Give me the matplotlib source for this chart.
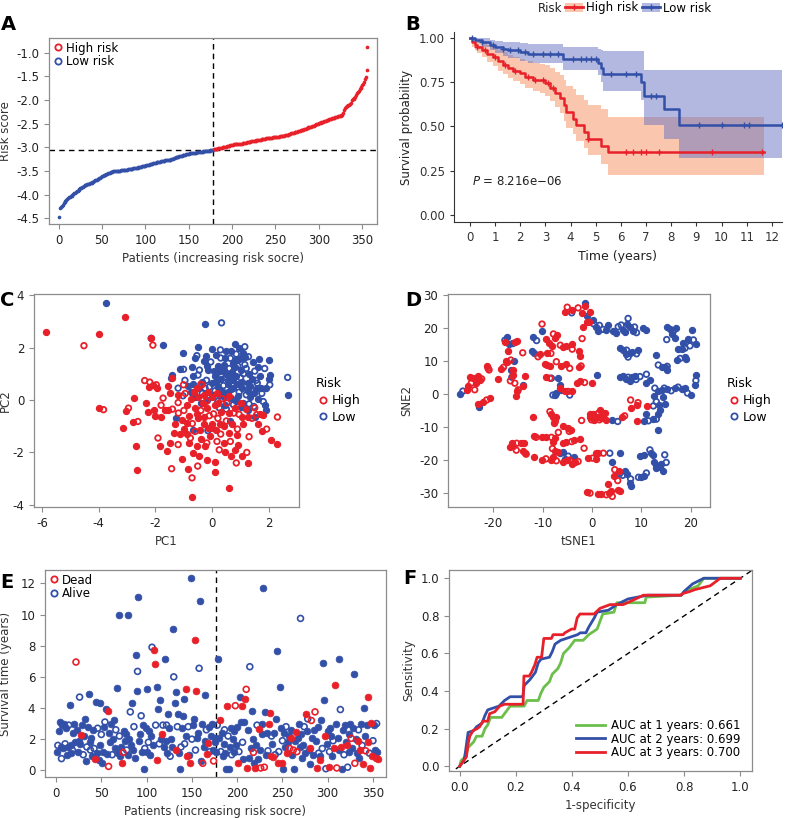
import numpy as np
import matplotlib
matplotlib.use("Agg")
import matplotlib.pyplot as plt
from matplotlib.lines import Line2D
from matplotlib.patches import Patch

plt.rcParams["font.family"] = ["DejaVu Sans"]
plt.rcParams["axes.unicode_minus"] = False

RED = "#e8202a"
BLUE = "#3350a8"
GREEN = "#6cbf4a"
GRAY = "#8c8c8c"

# ---------------- data ----------------
# A: risk score of each patient, sorted (low risk group first)
risk_low = [
    -4.47, -4.29, -4.27, -4.24, -4.21, -4.18, -4.16, -4.14, -4.12, -4.09,
    -4.07, -4.06, -4.04, -4.03, -4.02, -4.00, -3.99, -3.97, -3.96, -3.94,
    -3.93, -3.92, -3.90, -3.88, -3.86, -3.85, -3.84, -3.83, -3.82, -3.80,
    -3.80, -3.79, -3.78, -3.78, -3.77, -3.76, -3.76, -3.75, -3.74, -3.73,
    -3.72, -3.70, -3.69, -3.68, -3.67, -3.66, -3.65, -3.64, -3.63, -3.61,
    -3.60, -3.59, -3.59, -3.58, -3.57, -3.56, -3.55, -3.54, -3.54, -3.53,
    -3.52, -3.52, -3.51, -3.51, -3.50, -3.50, -3.50, -3.49, -3.49, -3.49,
    -3.49, -3.48, -3.48, -3.48, -3.48, -3.47, -3.47, -3.47, -3.47, -3.46,
    -3.46, -3.46, -3.45, -3.45, -3.45, -3.44, -3.44, -3.44, -3.43, -3.43,
    -3.43, -3.42, -3.42, -3.41, -3.41, -3.40, -3.40, -3.40, -3.39, -3.39,
    -3.38, -3.38, -3.37, -3.37, -3.36, -3.36, -3.35, -3.35, -3.34, -3.34,
    -3.33, -3.33, -3.32, -3.31, -3.31, -3.30, -3.30, -3.29, -3.29, -3.28,
    -3.28, -3.28, -3.27, -3.27, -3.27, -3.27, -3.26, -3.26, -3.26, -3.25,
    -3.24, -3.24, -3.23, -3.22, -3.21, -3.21, -3.20, -3.20, -3.19, -3.19,
    -3.18, -3.18, -3.17, -3.17, -3.16, -3.16, -3.15, -3.15, -3.14, -3.14,
    -3.13, -3.13, -3.13, -3.12, -3.12, -3.11, -3.11, -3.11, -3.10, -3.10,
    -3.10, -3.10, -3.09, -3.09, -3.09, -3.09, -3.08, -3.08, -3.08, -3.08,
    -3.07, -3.07, -3.07, -3.07, -3.06, -3.06, -3.06, -3.05,
]
risk_high = [
    -3.04, -3.04, -3.03, -3.03, -3.03, -3.02, -3.02, -3.02, -3.01, -3.01,
    -3.00, -3.00, -2.99, -2.99, -2.99, -2.98, -2.98, -2.97, -2.97, -2.96,
    -2.96, -2.95, -2.95, -2.94, -2.94, -2.94, -2.93, -2.93, -2.93, -2.93,
    -2.92, -2.92, -2.92, -2.91, -2.91, -2.91, -2.90, -2.90, -2.89, -2.89,
    -2.88, -2.88, -2.88, -2.87, -2.87, -2.87, -2.86, -2.86, -2.86, -2.85,
    -2.85, -2.85, -2.84, -2.84, -2.84, -2.83, -2.83, -2.82, -2.82, -2.82,
    -2.81, -2.81, -2.81, -2.81, -2.80, -2.80, -2.80, -2.80, -2.79, -2.79,
    -2.79, -2.79, -2.78, -2.78, -2.78, -2.78, -2.77, -2.77, -2.77, -2.76,
    -2.76, -2.76, -2.75, -2.75, -2.74, -2.73, -2.73, -2.72, -2.71, -2.70,
    -2.70, -2.69, -2.69, -2.68, -2.68, -2.67, -2.67, -2.66, -2.66, -2.65,
    -2.64, -2.64, -2.63, -2.63, -2.62, -2.61, -2.61, -2.60, -2.59, -2.58,
    -2.57, -2.57, -2.56, -2.55, -2.54, -2.54, -2.53, -2.52, -2.51, -2.51,
    -2.50, -2.49, -2.48, -2.48, -2.47, -2.46, -2.46, -2.45, -2.44, -2.44,
    -2.43, -2.42, -2.42, -2.41, -2.40, -2.40, -2.39, -2.38, -2.37, -2.37,
    -2.36, -2.35, -2.35, -2.34, -2.34, -2.33, -2.33, -2.32, -2.31, -2.27,
    -2.21, -2.17, -2.15, -2.13, -2.12, -2.11, -2.10, -2.08, -2.06, -1.99,
    -1.98, -1.97, -1.95, -1.93, -1.90, -1.86, -1.83, -1.80, -1.77, -1.74,
    -1.72, -1.69, -1.66, -1.62, -1.55, -1.52, -1.37, -0.88,
]
risk_cut = -3.05

# B: Kaplan-Meier steps, confidence bands and censor times
km_high_t = [0, 0.1, 0.2, 0.3, 0.5, 0.7, 0.9, 1.1, 1.3, 1.5, 1.7, 2.0, 2.2, 2.5,
             2.8, 3.0, 3.2, 3.4, 3.6, 3.75, 3.8, 4.1, 4.2, 4.55, 4.7, 5.2, 5.5, 11.7]
km_high_s = [1.0, 0.98, 0.96, 0.95, 0.93, 0.91, 0.89, 0.87, 0.85, 0.83, 0.815, 0.80,
             0.78, 0.765, 0.76, 0.745, 0.72, 0.69, 0.66, 0.62, 0.58, 0.545, 0.51,
             0.47, 0.43, 0.39, 0.355, 0.355]
km_high_hi = [1.0, 1.0, 0.99, 0.985, 0.975, 0.96, 0.95, 0.935, 0.92, 0.905, 0.89, 0.88,
              0.87, 0.86, 0.855, 0.845, 0.83, 0.81, 0.79, 0.76, 0.73, 0.71, 0.68,
              0.65, 0.62, 0.60, 0.555, 0.555]
km_high_lo = [1.0, 0.95, 0.93, 0.915, 0.89, 0.865, 0.84, 0.815, 0.795, 0.775, 0.755,
              0.74, 0.715, 0.70, 0.69, 0.675, 0.645, 0.61, 0.575, 0.53, 0.49, 0.455,
              0.42, 0.38, 0.34, 0.29, 0.225, 0.225]
km_high_cens = [0.3, 0.6, 1.0, 1.4, 1.8, 2.3, 2.6, 2.9, 3.1, 3.3, 4.7, 6.2, 6.5, 6.8,
                7.0, 7.5, 9.6, 11.6]

km_low_t = [0, 0.2, 0.5, 0.8, 1.0, 1.3, 1.5, 2.0, 2.3, 3.7, 5.1, 5.2, 5.3, 6.8, 6.9,
            7.7, 8.3, 12.4]
km_low_s = [1.0, 0.99, 0.975, 0.96, 0.95, 0.94, 0.93, 0.92, 0.91, 0.88, 0.86, 0.83,
            0.795, 0.75, 0.67, 0.60, 0.51, 0.51]
km_low_hi = [1.0, 1.0, 1.0, 0.99, 0.985, 0.98, 0.975, 0.97, 0.965, 0.95, 0.94, 0.93,
             0.925, 0.925, 0.82, 0.82, 0.82, 0.82]
km_low_lo = [1.0, 0.97, 0.95, 0.93, 0.915, 0.90, 0.885, 0.87, 0.86, 0.82, 0.79, 0.75,
             0.70, 0.65, 0.51, 0.43, 0.32, 0.32]
km_low_cens = [0.1, 0.5, 0.9, 1.3, 1.6, 1.9, 2.2, 2.5, 2.9, 3.2, 3.5, 4.1, 4.4, 4.6,
               4.8, 5.0, 5.6, 6.2, 6.6, 7.2, 7.4, 9.1, 10.0, 10.9, 11.1, 12.4]

# C: PCA coordinates (PC1, PC2)
pca_high = [
    (-5.85, 2.6), (-4.52, 2.07), (-3.99, 2.52), (-3.09, 3.17), (-2.09, 2.09), (-2.15, 2.35),
    (-4.0, -0.29), (-3.83, -0.37), (-3.15, -1.05), (-3.03, -0.41), (-2.95, -0.31),
    (-2.77, 0.08), (-2.79, -0.84), (-2.62, -0.82), (-2.7, -1.75), (-2.64, -2.67),
    (-2.38, 0.74), (-2.32, -0.12), (-2.27, -0.44), (-2.2, 0.68), (-2.22, 0.51),
    (-2.09, 0.58), (-1.97, 0.58), (-1.93, 0.45), (-2.06, -0.37), (-1.91, -1.45),
    (-1.85, -1.77), (-1.79, -0.63), (-1.73, 0.07), (-1.6, -1.96), (-1.49, -1.64),
    (-1.43, -2.62), (-1.49, 0.28), (-1.43, 0.83), (-1.4, -0.35), (-1.55, -0.37),
    (-1.21, 0.2), (-1.19, -0.5), (-1.13, -1.29), (-1.07, -0.75), (-1.01, 0.58),
    (-0.89, -0.88), (-0.85, -2.62), (-0.71, -2.97), (-0.71, -3.71), (-0.83, -1.64),
    (-0.77, -1.45), (-0.66, -2.02), (-0.54, -1.77), (-0.51, -2.52), (-0.45, -2.12),
    (-0.42, -1.14), (-0.36, 0.58), (-0.31, -0.12), (-0.28, -0.63), (-0.19, -1.64),
    (-0.13, -1.07), (-0.09, -1.39), (0.05, -0.53), (0.11, -2.38), (0.11, -2.75),
    (0.17, -1.58), (0.29, -0.92), (0.43, -1.64), (0.52, -0.12), (0.58, -0.5),
    (0.61, -1.24), (0.64, -1.58), (0.66, -2.12), (0.6, -3.36), (0.76, -0.5),
    (0.79, -1.89), (0.87, -1.33), (0.89, -1.11), (1.05, -2.15), (1.05, -0.63),
    (1.22, -2.0), (1.28, -2.41), (1.28, -0.63), (1.57, -0.56), (1.74, -1.2),
    (1.8, -0.56), (1.92, -1.11), (2.09, -1.51), (2.29, -1.67), (2.3, -0.65),
    (-0.13, 0.32), (0.17, 0.26), (-1.0, -0.4), (-0.9, -0.2), (-0.8, -0.6), (-0.7, -0.9),
    (-0.6, -0.3), (-0.5, -0.7), (-0.4, -0.4), (-0.3, -0.9), (-0.2, -0.3), (-0.1, -0.6),
    (0.0, -0.9), (0.1, -0.2), (0.2, -0.7), (0.3, -0.45), (0.4, -1.0), (0.5, -0.8),
    (0.7, -0.9), (0.8, -0.3), (0.95, -0.55), (1.1, -0.9), (1.2, -0.35), (1.4, -0.7),
    (1.6, -0.9), (-1.3, -0.9), (-1.2, -0.1), (-1.0, -1.1), (-0.9, -1.3), (-0.6, -1.2),
    (-0.5, 0.1), (-0.3, 0.2), (-0.2, -0.05), (0.0, 0.1), (0.2, -0.1), (0.35, 0.05),
    (-0.75, 0.05), (-0.55, 0.45), (-0.4, 0.6), (-0.25, -1.75), (-0.4, -1.5), (0.3, -1.3),
    (0.0, -1.05), (-1.65, -0.4), (-1.8, -0.2), (-2.0, -0.6), (-1.35, -1.25), (-1.2, -1.7),
    (0.45, -2.0), (0.9, -1.7), (1.3, -1.4), (1.0, -0.1), (0.6, 0.15), (-0.95, 0.25),
    (-1.55, 0.55), (-0.65, 0.3), (0.85, -2.4), (-0.2, -2.3), (-1.05, -2.25), (0.25, -1.9),
    (-0.55, -0.55), (0.15, -1.15), (1.5, -0.3), (1.7, -0.55),
]
pca_low = [
    (-3.73, 3.68), (-2.15, 2.35), (-1.73, 2.11), (-0.26, 2.89), (0.33, 2.94), (-1.03, 1.78),
    (-0.51, 2.03), (-0.54, 1.69), (-0.21, 1.68), (-0.02, 1.93), (0.29, 1.91), (0.5, 1.88),
    (0.82, 2.15), (1.15, 2.03), (1.17, 1.65), (2.02, 1.52), (2.66, 0.86), (2.67, 0.19),
    (-1.13, 1.17), (-1.01, 1.17), (-1.42, 0.96), (-1.45, 0.85), (-0.96, 0.75), (-0.66, 0.91),
    (-0.66, 0.6), (-0.45, 1.14), (-0.19, 1.3), (-0.15, 1.15), (0.17, 1.02), (0.29, 1.09),
    (0.43, 1.34), (0.64, 1.59), (0.82, 1.52), (1.0, 1.15), (1.28, 1.65), (1.63, 1.24),
    (1.99, 0.8), (2.03, 0.58), (1.91, 0.45), (1.71, 0.45), (1.59, 0.64), (1.47, 0.26),
    (1.25, 0.65), (1.1, 1.0), (0.75, 0.75), (0.55, 0.6), (0.4, 0.55), (0.2, 0.5),
    (0.0, 0.65), (-0.2, 0.75), (-0.35, 0.7), (0.75, 0.45), (0.95, 0.3), (1.25, 0.35),
    (1.35, 0.1), (1.8, -0.06), (1.87, -0.18), (1.91, -0.37), (1.47, -0.25), (1.25, -0.37),
    (1.0, -0.25), (0.75, -0.18), (0.65, 0.07), (0.4, 0.13), (0.2, -0.05), (0.0, 0.2),
    (-0.2, 0.0), (-0.35, 0.25), (-0.5, 0.45), (-0.75, 0.3), (-1.03, 0.16), (-0.69, -1.14),
    (-1.26, -0.69), (-0.15, -1.17), (0.64, -0.82), (1.5, -0.63), (0.5, -0.35),
    (0.3, 0.8), (0.5, 1.0), (0.6, 1.2), (0.7, 1.05), (0.85, 0.9), (0.9, 1.3), (1.0, 1.6),
    (1.05, 0.7), (1.15, 1.35), (1.3, 1.0), (1.4, 0.8), (1.5, 1.1), (1.55, 0.4), (1.7, 0.9),
    (1.85, 1.2), (0.1, 0.9), (0.2, 1.3), (-0.05, 1.45), (0.45, 1.6), (0.65, 1.85),
    (0.85, 1.75), (0.95, 2.0), (1.1, 1.8), (0.3, 1.6), (0.15, 1.7), (-0.3, 1.5),
    (-0.5, 0.95), (-0.7, 1.25), (-0.85, 0.55), (-1.2, 0.45), (-0.6, 0.1), (-0.4, -0.1),
    (0.1, 0.35), (0.25, 0.2), (0.55, 0.3), (0.7, 0.55), (0.9, 0.6), (1.05, 0.45),
    (1.2, 0.2), (1.35, 0.55), (1.6, 0.05), (1.75, 0.25), (0.85, -0.05), (0.45, -0.2),
    (0.3, 0.95), (0.6, 0.9), (0.8, 1.25), (1.2, 1.2), (1.45, 1.45), (0.4, 1.15),
    (-0.1, 0.5), (0.9, 0.15), (1.1, -0.1), (1.3, -0.15), (0.55, 0.75), (0.75, 1.4),
    (1.0, 0.85), (0.35, 0.35), (0.15, 0.7), (-0.25, 0.45), (0.95, 1.55), (0.65, 0.4),
    (1.15, 0.55), (0.05, 1.1), (-0.6, 1.6), (1.55, 0.75), (2.05, 0.95), (1.65, 1.55),
    (0.25, -0.3),
]

# D: t-SNE coordinates (tSNE1, tSNE2)
tsne_high = [
    (-24.7, 5.1), (-24.4, 3.3), (-25.0, 2.3), (-25.3, 1.3), (-23.7, 1.3), (-23.0, 5.5),
    (-22.7, 4.3), (-22.3, 4.6), (-23.5, 3.5), (-21.3, 8.5), (-20.8, 7.3), (-23.0, -3.0),
    (-22.0, -2.5), (-21.3, -1.8), (-20.7, -1.2), (-24.0, 4.8), (-21.0, 7.8),
    (-19.0, 4.5), (-18.4, 7.5), (-17.9, 8.1), (-17.4, 10.1), (-16.9, 12.9), (-16.4, 10.3),
    (-16.0, 7.3), (-15.9, 5.8), (-15.6, 3.3), (-15.2, 1.0), (-15.4, -0.6), (-14.9, 1.3),
    (-14.0, 2.5), (-13.5, 5.5), (-14.0, 12.5), (-15.2, 16.1), (-17.5, 15.8), (-16.5, 4.0),
    (-17.2, 9.8), (-15.5, 15.9),
    (-10.1, 21.2), (-9.3, 16.7), (-8.6, 15.4), (-7.8, 18.2), (-7.5, 16.9), (-8.0, 14.6),
    (-8.3, 12.3), (-9.0, 12.3), (-10.6, 12.1), (-10.9, 11.3), (-9.1, 8.8), (-8.4, 8.5),
    (-7.2, 9.8), (-6.2, 8.5), (-5.2, 9.1), (-4.5, 7.8), (-4.1, 15.1), (-5.2, 14.5),
    (-4.0, 13.6), (-2.7, 13.0), (-2.5, 11.5), (-2.0, 16.8), (-1.9, 20.2), (-2.7, 8.1),
    (-2.2, 8.5), (-3.1, 3.3), (-2.5, 3.9), (-1.5, 3.5), (0.1, 3.5), (-9.2, 5.3),
    (-8.5, 4.8), (-6.5, 1.8), (-5.5, 0.8), (-4.8, 0.8), (-4.0, 0.8), (-7.0, 18.0),
    (-6.4, 14.8), (-5.8, 14.2), (-9.5, 9.0),
    (-5.0, 26.3), (-4.1, 25.5), (-2.0, 24.6), (-2.8, 26.1), (-0.4, 25.0), (-1.1, 21.8),
    (-0.5, 21.7), (-1.5, 26.6), (-5.5, 24.8),
    (7.8, -1.8), (7.9, -4.3), (9.1, -3.3), (9.3, -2.6), (9.0, -8.1), (11.2, -3.6),
    (-0.1, -7.8), (0.3, -6.0), (1.0, -6.8), (1.3, -5.8), (1.6, -4.8), (2.0, -6.3),
    (2.3, -6.8), (2.6, -5.8), (-0.4, -6.8), (1.5, -7.8), (0.4, -7.8), (2.8, -7.8),
    (-2.1, -8.0), (-0.4, -6.0), (6.0, -6.8), (6.6, -6.6), (1.8, -7.3),
    (-12.0, -6.8), (-8.5, -5.3), (-8.2, -6.0), (-7.9, -6.8), (-7.5, -7.3), (-7.2, -6.8),
    (-7.7, -8.8), (-7.4, -8.3), (-5.8, -9.8), (-4.9, -10.3), (-4.6, -11.3), (-4.3, -10.8),
    (-11.8, -12.8), (-11.3, -13.1), (-10.2, -13.1), (-9.2, -12.9), (-8.2, -13.1),
    (-7.9, -14.4), (-7.4, -13.4), (-6.8, -11.6), (-5.8, -14.8), (-5.2, -14.4),
    (-4.1, -14.4), (-3.7, -13.9), (-2.5, -13.7), (-1.6, -16.4), (-16.2, -14.7),
    (-15.9, -15.6), (-15.2, -14.9), (-14.4, -14.9), (-13.7, -14.7), (-15.3, -17.0),
    (-14.0, -17.3), (-13.6, -17.8), (-13.3, -18.2), (-11.8, -19.0), (-10.2, -20.0),
    (-9.3, -19.6), (-8.2, -20.0), (-7.9, -19.2), (-7.2, -20.2), (-5.9, -20.5),
    (-5.1, -20.0), (-4.5, -20.0), (-4.1, -21.2), (-3.5, -20.7), (-2.8, -20.4),
    (-7.5, -17.2), (-6.8, -17.4), (-8.0, -16.5), (-16.5, -16.0),
    (-0.8, -19.4), (0.1, -19.4), (0.9, -19.7), (1.3, -17.7), (2.3, -17.9), (0.8, -17.9),
    (-1.0, -29.8), (-0.4, -30.0), (1.2, -30.2), (1.9, -30.2), (2.9, -30.5), (3.4, -30.0),
    (3.8, -29.5), (4.1, -31.0), (5.2, -29.0), (5.6, -29.5), (4.6, -22.9), (5.4, -23.4),
    (4.5, -24.9), (5.2, -26.2), (3.3, -27.2),
]
tsne_low = [
    (-26.6, 0.0), (-26.1, 0.9), (-22.8, -4.0), (-17.1, 17.4), (-17.6, 16.3), (-16.7, 15.2),
    (-16.4, 7.3), (-16.2, 5.1), (-15.7, 10.1), (-14.0, 2.8), (-16.0, 15.3),
    (-10.2, 19.2), (-11.9, 17.4), (-11.2, 16.2), (-12.2, 12.9), (-11.7, 12.4), (-4.1, 24.6),
    (-1.5, 27.5), (-1.0, 23.6), (-8.2, 4.8), (-6.9, 4.8), (-6.5, 2.8), (-7.9, -0.3),
    (-7.2, 0.2), (-6.2, 1.3), (-4.5, -0.3), (1.0, 5.8), (-7.5, -0.2),
    (0.4, 21.2), (0.9, 20.4), (1.2, 19.0), (2.2, 19.6), (3.3, 20.9), (4.3, 19.1),
    (5.3, 20.4), (6.3, 19.4), (7.0, 21.2), (7.3, 22.9), (7.6, 20.4), (8.3, 19.2),
    (9.0, 18.6), (10.3, 19.9), (11.0, 19.4), (5.9, 20.9), (2.9, 19.4), (4.9, 18.6),
    (1.5, 20.8), (0.2, 22.5), (6.6, 18.7), (8.6, 20.3),
    (5.6, 13.9), (6.3, 13.2), (7.3, 11.2), (7.6, 12.4), (9.3, 13.4), (9.0, 12.2),
    (8.0, 12.6), (6.9, 12.0), (7.0, 13.3),
    (5.6, 5.3), (6.3, 5.5), (7.3, 5.1), (8.0, 5.3), (8.6, 5.5), (9.7, 5.3), (7.7, 3.9),
    (10.9, 3.3), (11.0, 6.0), (11.8, 4.3), (6.8, 4.6), (8.9, 4.4),
    (15.1, 20.2), (15.8, 19.6), (16.4, 18.9), (16.9, 19.9), (16.8, 16.9), (15.1, 16.5),
    (17.4, 13.7), (18.1, 13.7), (18.8, 13.9), (19.5, 16.7), (20.2, 19.4), (20.5, 16.4),
    (21.0, 15.2), (17.2, 10.3), (17.8, 10.8), (18.8, 11.1), (13.0, 11.8), (13.4, 8.8),
    (14.1, 8.1), (14.7, 8.1), (15.2, 8.4), (15.2, 7.3), (18.3, 15.5), (19.8, 14.6),
    (16.2, 18.1), (19.0, 10.5),
    (12.7, 1.8), (13.4, 0.8), (14.1, 1.3), (14.6, 1.8), (15.2, 1.6), (16.8, 1.8),
    (17.4, 2.1), (18.1, 1.5), (18.8, 1.8), (19.3, 0.3), (20.0, -0.2), (21.0, 5.8),
    (21.0, 4.1), (20.9, 2.8), (14.4, -0.8), (13.0, -2.3), (13.6, -3.3), (14.8, -3.0),
    (12.4, -3.6), (13.8, -4.8), (13.4, -6.0), (13.0, -7.6), (10.9, -6.0), (10.5, -8.1),
    (11.4, -8.1), (12.4, -7.6), (13.4, -10.9), (16.0, 1.0), (12.5, -0.5),
    (4.0, -7.8), (5.2, -8.3),
    (-6.5, -17.7), (-5.8, -17.4), (-4.8, -18.8), (-3.6, -19.1), (-5.4, -19.6),
    (3.6, -17.9), (5.6, -17.7), (4.1, -20.7), (5.6, -24.1), (6.6, -23.4), (7.0, -24.1),
    (7.8, -25.7), (7.8, -27.9), (7.7, -26.9), (6.2, -24.6),
    (9.7, -18.9), (10.5, -18.4), (11.7, -16.9), (12.0, -17.7), (12.4, -18.4),
    (14.7, -18.4), (13.0, -21.4), (14.0, -21.2), (15.0, -20.7), (14.3, -23.4),
    (13.8, -22.0), (11.0, -23.9), (10.5, -24.9), (10.0, -25.2), (9.4, -25.2),
    (13.0, -22.5), (12.5, -20.5),
]

# E: survival time (years) per patient in risk order, and which patients died
surv_time = [
    1.2, 1.6, 2.5, 3.1, 1.5, 0.75, 2.9, 1.4, 3.0, 1.7,
    2.7, 1.0, 1.5, 2.9, 4.2, 1.1, 1.6, 1.3, 2.4, 3.0,
    1.8, 6.95, 2.6, 1.2, 1.9, 4.7, 1.7, 2.25, 2.9, 1.0,
    2.2, 3.3, 0.6, 1.5, 2.8, 4.9, 1.8, 1.3, 2.1, 0.9,
    2.6, 1.4, 0.7, 4.4, 1.1, 2.7, 0.65, 1.6, 4.35, 2.3,
    0.5, 1.2, 2.8, 3.1, 3.95, 1.05, 3.8, 0.25, 2.4, 1.8,
    3.0, 1.0, 2.0, 3.2, 1.4, 2.6, 5.3, 1.1, 10.0, 2.2,
    0.95, 1.5, 0.45, 1.15, 2.5, 1.9, 2.3, 1.3, 1.0, 10.0,
    2.0, 3.75, 1.6, 4.3, 1.3, 2.8, 0.8, 7.4, 5.1, 6.35,
    11.1, 1.9, 2.3, 3.5, 1.2, 2.9, 0.1, 1.4, 2.7, 1.2,
    5.2, 1.8, 2.5, 1.0, 2.2, 7.9, 1.6, 7.75, 6.8, 2.9,
    0.65, 5.35, 3.95, 1.7, 4.5, 2.0, 2.35, 2.9, 1.5, 7.15,
    1.9, 2.9, 1.1, 3.6, 2.7, 0.9, 2.0, 1.5, 9.1, 6.0,
    4.3, 5.0, 1.3, 2.8, 3.6, 1.1, 0.1, 1.5, 2.7, 3.5,
    4.6, 1.7, 5.25, 2.2, 0.95, 2.8, 1.0, 0.45, 12.35, 2.0,
    2.9, 3.3, 8.35, 1.3, 5.1, 2.1, 2.4, 6.55, 10.9, 0.6,
    3.0, 0.45, 1.5, 4.85, 1.9, 2.6, 1.05, 1.75, 2.8, 1.2,
    2.2, 3.0, 1.3, 0.6, 2.1, 1.8, 1.2, 2.9,
    7.15, 2.1, 3.2, 1.2, 2.4, 0.9, 1.7, 2.6, 1.1, 0.1,
    4.1, 2.2, 0.1, 1.5, 2.7, 1.0, 2.0, 1.2, 2.5, 4.15,
    1.6, 2.8, 0.5, 1.2, 4.7, 3.1, 4.15, 1.8, 0.7, 3.1,
    4.55, 5.2, 0.15, 2.6, 0.8, 6.65, 1.4, 3.8, 2.0, 1.15,
    0.5, 0.15, 1.6, 2.9, 0.7, 2.65, 1.3, 0.15, 2.3, 3.0,
    11.7, 0.2, 3.75, 1.0, 2.4, 1.25, 3.0, 3.65, 0.95, 2.2,
    1.7, 0.85, 2.4, 1.0, 3.3, 7.65, 0.45, 1.2, 5.35, 2.7,
    0.5, 1.9, 0.1, 2.4, 1.5, 2.8, 1.1, 1.8, 2.2, 1.4,
    2.6, 2.05, 1.0, 1.3, 0.1, 1.9, 2.45, 1.2, 2.1, 3.0,
    1.5, 9.75, 2.3, 0.8, 1.6, 2.8, 1.1, 3.6, 2.5, 3.3,
    1.3, 0.4, 1.4, 3.2, 2.1, 1.0, 2.6, 3.75, 1.9, 0.15,
    2.8, 1.1, 0.9, 0.65, 3.2, 1.4, 6.9, 4.5, 2.2, 0.1,
    1.7, 2.5, 0.2, 1.2, 2.7, 2.2, 0.9, 1.9, 1.4, 5.5,
    3.0, 0.15, 2.1, 7.15, 1.3, 3.9, 1.5, 0.1, 2.6, 1.0,
    2.9, 1.8, 1.65, 0.2, 2.3, 1.2, 3.0, 2.05, 1.4, 2.7,
    6.2, 0.45, 2.0, 1.1, 1.9, 2.6, 0.8, 1.3, 3.0, 1.6,
    0.4, 4.0, 2.2, 1.25, 2.9, 1.8, 4.7, 1.1, 0.15, 3.05,
    0.95, 1.9, 2.9, 1.3, 0.8, 3.0, 1.2, 0.75,
]
dead_patients = [
    22, 28, 43, 57, 58, 73, 74, 108, 109, 111, 117, 133, 143, 145, 148, 153, 155, 162,
    167, 168, 174,
    181, 189, 198, 201, 205, 209, 210, 211, 218, 220, 224, 226, 230, 235, 236, 237, 240,
    245, 249, 255, 258, 260, 262, 265, 266, 276, 281, 282, 286, 288, 292, 297, 301, 307,
    308, 310, 315, 321, 326, 330, 333, 336, 339, 342, 344, 345, 347, 348, 349, 353, 356,
]

# F: time-dependent ROC curves (1-specificity, sensitivity)
roc1_fpr = [0, 0.005, 0.02, 0.03, 0.05, 0.06, 0.08, 0.09, 0.1, 0.11, 0.15, 0.17, 0.18,
            0.23, 0.24, 0.28, 0.29, 0.3, 0.32, 0.33, 0.35, 0.36, 0.37, 0.39, 0.41, 0.44,
            0.46, 0.47, 0.49, 0.5, 0.51, 0.55, 0.56, 0.66, 0.665, 0.79, 0.8, 0.85, 0.87, 1.0]
roc1_tpr = [0, 0.03, 0.05, 0.1, 0.13, 0.16, 0.16, 0.2, 0.22, 0.26, 0.26, 0.3, 0.32,
            0.32, 0.35, 0.35, 0.39, 0.42, 0.45, 0.49, 0.52, 0.55, 0.6, 0.63, 0.67, 0.67,
            0.7, 0.71, 0.73, 0.77, 0.81, 0.82, 0.87, 0.87, 0.9, 0.91, 0.93, 0.96, 1.0, 1.0]
roc2_fpr = [0, 0.015, 0.02, 0.03, 0.05, 0.06, 0.08, 0.09, 0.1, 0.14, 0.16, 0.18, 0.225,
            0.23, 0.25, 0.27, 0.28, 0.29, 0.32, 0.33, 0.34, 0.36, 0.38, 0.4, 0.42, 0.43,
            0.45, 0.46, 0.48, 0.49, 0.53, 0.56, 0.6, 0.67, 0.79, 0.8, 0.83, 0.87, 1.0]
roc2_tpr = [0, 0.03, 0.07, 0.18, 0.19, 0.21, 0.23, 0.27, 0.3, 0.32, 0.35, 0.37, 0.37,
            0.43, 0.46, 0.5, 0.55, 0.57, 0.58, 0.61, 0.65, 0.67, 0.68, 0.69, 0.7, 0.71,
            0.71, 0.74, 0.79, 0.82, 0.83, 0.86, 0.89, 0.91, 0.91, 0.93, 0.97, 1.0, 1.0]
roc3_fpr = [0, 0.024, 0.03, 0.036, 0.048, 0.062, 0.071, 0.083, 0.1, 0.107, 0.125, 0.143,
            0.16, 0.226, 0.229, 0.248, 0.256, 0.268, 0.276, 0.292, 0.3, 0.327, 0.333,
            0.369, 0.375, 0.399, 0.41, 0.419, 0.429, 0.479, 0.5, 0.536, 0.583, 0.613,
            0.655, 0.786, 0.798, 0.821, 0.839, 0.893, 0.929, 1.0]
roc3_tpr = [0, 0.05, 0.12, 0.16, 0.19, 0.2, 0.21, 0.24, 0.24, 0.28, 0.29, 0.32, 0.33,
            0.33, 0.48, 0.48, 0.5, 0.54, 0.58, 0.58, 0.68, 0.68, 0.7, 0.7, 0.71, 0.73,
            0.73, 0.79, 0.81, 0.81, 0.84, 0.86, 0.86, 0.88, 0.91, 0.91, 0.92, 0.93, 0.94,
            0.96, 1.0, 1.0]
roc_labels = ["AUC at 1 years: 0.661", "AUC at 2 years: 0.699", "AUC at 3 years: 0.700"]

# ---------------- figure ----------------
W, H = 785, 818
fig = plt.figure(figsize=(W / 100, H / 100), dpi=100)


def place(l, t, r, b):
    return fig.add_axes([l / W, 1 - b / H, (r - l) / W, (b - t) / H])


def frame(ax):
    for s in ax.spines.values():
        s.set_color(GRAY)
        s.set_linewidth(0.9)
    ax.tick_params(colors=GRAY, labelcolor="#222222", labelsize=8.5, length=3.5, width=0.8)


def letter(x, y, s):
    fig.text(x / W, 1 - y / H, s, fontsize=14, fontweight="bold", va="center", ha="left")


def open_mask(n, k=3):
    return np.arange(n) % k == 1


def dots(ax, xy, color, s=20, k=3):
    xy = np.asarray(xy)
    hol = open_mask(len(xy), k)
    ax.scatter(xy[~hol, 0], xy[~hol, 1], s=s, color=color, lw=0.8, zorder=3)
    ax.scatter(xy[hol, 0], xy[hol, 1], s=s * 0.8, facecolors="none", edgecolors=color,
               lw=1.3, zorder=3)


def ring(color):
    return Line2D([], [], marker="o", ls="none", markersize=4.5, markerfacecolor="none",
                  markeredgecolor=color, markeredgewidth=1.3)


def ylabel_at(ax, text, xpix, left, width):
    # xpix is where the right edge of the rotated label sits, in figure pixels
    ax.set_ylabel(text, fontsize=8.5, color="#333333")
    ax.yaxis.set_label_coords((xpix - left) / width, 0.5)


# ---- A ----
ax = place(49, 38, 377, 224)
frame(ax)
n_low = len(risk_low)
xa_low = np.arange(1, n_low + 1)
xa_high = np.arange(n_low + 1, n_low + len(risk_high) + 1)
ax.scatter(xa_low, risk_low, s=7, color=BLUE, lw=0, zorder=3)
ax.scatter(xa_high, risk_high, s=7, color=RED, lw=0, zorder=3)
ax.axvline(n_low, color="black", ls=(0, (4, 3)), lw=1)
ax.axhline(risk_cut, color="black", ls=(0, (4, 3)), lw=1)
ax.set_xlim(-11, 367)
ax.set_ylim(-4.62, -0.69)
ax.set_xticks(range(0, 351, 50))
ax.set_yticks(np.arange(-4.5, -0.9, 0.5))
ax.yaxis.set_major_formatter(matplotlib.ticker.FormatStrFormatter("%.1f"))
ax.set_xlabel("Patients (increasing risk socre)", fontsize=8.5, color="#333333")
ylabel_at(ax, "Risk score", 12, 49, 328)
ax.legend([ring(RED), ring(BLUE)], ["High risk", "Low risk"], loc="upper left",
          frameon=False, fontsize=8.5, handletextpad=0.1, borderpad=0.2,
          labelspacing=0.05, handlelength=1.0, borderaxespad=0.1)
letter(1, 25, "A")

# ---- B ----
ax = place(454, 32, 782, 222)
for side in ["top", "right"]:
    ax.spines[side].set_visible(False)
for side in ["left", "bottom"]:
    ax.spines[side].set_color("#333333")
    ax.spines[side].set_linewidth(0.8)
ax.tick_params(colors="#333333", labelcolor="#333333", labelsize=8.5, length=3, width=0.8)
fill_red = "#f7905f"
fill_blue = "#6973c3"
ax.fill_between(km_high_t, km_high_lo, km_high_hi, step="post", color=fill_red, alpha=0.5, lw=0)
ax.fill_between(km_low_t, km_low_lo, km_low_hi, step="post", color=fill_blue, alpha=0.5, lw=0)
for t, s, cens, col in [(km_high_t, km_high_s, km_high_cens, RED),
                        (km_low_t, km_low_s, km_low_cens, BLUE)]:
    t = np.asarray(t)
    s = np.asarray(s)
    ax.step(t, s, where="post", color=col, lw=1.8, zorder=3)
    idx = np.searchsorted(t, cens, side="right") - 1
    ax.plot(cens, s[idx], ls="none", marker="+", ms=5, mew=1, color=col, zorder=4)
ax.text(0.1, 0.19, r"$P$ = 8.216e−06", fontsize=8.5, color="#222222", va="center")
ax.set_xlim(-0.63, 12.4)
ax.set_ylim(-0.04, 1.034)
ax.set_xticks(range(0, 13))
ax.set_yticks([0, 0.25, 0.5, 0.75, 1.0])
ax.yaxis.set_major_formatter(matplotlib.ticker.FormatStrFormatter("%.2f"))
ax.set_xlabel("Time (years)", fontsize=9, color="#222222")
ax.set_ylabel("Survival probability", fontsize=8.5, color="#222222")
fig.text(538 / W, 1 - 8 / H, "Risk", fontsize=8.5, va="center", color="#222222")
h_red = (Patch(facecolor=fill_red, alpha=0.5, lw=0),
         Line2D([], [], color=RED, lw=2, marker="+", ms=5))
h_blue = (Patch(facecolor=fill_blue, alpha=0.5, lw=0),
          Line2D([], [], color=BLUE, lw=2, marker="+", ms=5))
fig.legend([h_red, h_blue], ["High risk", "Low risk"], ncol=2, loc="center left",
           bbox_to_anchor=(565 / W, 1 - 8 / H), frameon=False, fontsize=8.5,
           handlelength=1.5, handletextpad=0.3, columnspacing=0.3, borderpad=0,
           borderaxespad=0)
letter(405, 25, "B")

# ---- C ----
ax = place(34, 294, 299, 507)
frame(ax)
dots(ax, pca_low, BLUE, s=20)
dots(ax, pca_high, RED, s=20)
ax.set_xlim(-6.28, 3.06)
ax.set_ylim(-4.08, 4.04)
ax.set_xticks([-6, -4, -2, 0, 2])
ax.set_yticks([-4, -2, 0, 2, 4])
ax.set_xlabel("PC1", fontsize=8.5, color="#333333")
ylabel_at(ax, "PC2", 12, 34, 265)
ax.legend([ring(RED), ring(BLUE)], ["High", "Low"], title="Risk", alignment="left",
          loc="center left", bbox_to_anchor=(1.02, 0.5), frameon=False, fontsize=9,
          title_fontsize=9, handletextpad=0.1, handlelength=1.2, labelspacing=0.3)
letter(0, 300, "C")

# ---- D ----
ax = place(448, 294, 710, 507)
frame(ax)
dots(ax, tsne_low, BLUE, s=20)
dots(ax, tsne_high, RED, s=20)
ax.set_xlim(-29.1, 23.85)
ax.set_ylim(-34.2, 30.3)
ax.set_xticks([-20, -10, 0, 10, 20])
ax.set_yticks([-30, -20, -10, 0, 10, 20, 30])
ax.set_xlabel("tSNE1", fontsize=8.5, color="#333333")
ax.set_ylabel("SNE2", fontsize=8.5, color="#333333")
ax.legend([ring(RED), ring(BLUE)], ["High", "Low"], title="Risk", alignment="left",
          loc="center left", bbox_to_anchor=(1.02, 0.5), frameon=False, fontsize=9,
          title_fontsize=9, handletextpad=0.1, handlelength=1.2, labelspacing=0.3)
letter(405, 300, "D")

# ---- E ----
ax = place(45, 570, 386, 777)
frame(ax)
st = np.asarray(surv_time)
xe = np.arange(1, len(st) + 1)
dead = np.isin(xe, dead_patients)
hol = open_mask(len(st), 4)
for mask, col in [(~dead, BLUE), (dead, RED)]:
    ax.scatter(xe[mask & ~hol], st[mask & ~hol], s=24, color=col, lw=0.5, zorder=3)
    ax.scatter(xe[mask & hol], st[mask & hol], s=18, facecolors="none", edgecolors=col,
               lw=1.2, zorder=3)
ax.axvline(n_low - 1, color="black", ls=(0, (4, 3)), lw=1)
ax.set_xlim(-12.2, 364.4)
ax.set_ylim(-0.43, 12.86)
ax.set_xticks(range(0, 351, 50))
ax.set_yticks(range(0, 13, 2))
ax.set_xlabel("Patients (increasing risk socre)", fontsize=8.5, color="#333333")
ylabel_at(ax, "Survival time (years)", 12, 45, 341)
ax.legend([ring(RED), ring(BLUE)], ["Dead", "Alive"], loc="upper left",
          frameon=False, fontsize=8.5, handletextpad=0.1, borderpad=0.2,
          labelspacing=0.05, handlelength=1.0, borderaxespad=0.1)
letter(0, 583, "E")

# ---- F ----
ax = place(449, 570, 752, 771)
frame(ax)
ax.plot([-0.1, 1.1], [-0.1, 1.1], color="black", ls=(0, (4, 3)), lw=1)
for fx, ty, col, lab in [(roc1_fpr, roc1_tpr, GREEN, roc_labels[0]),
                         (roc2_fpr, roc2_tpr, BLUE, roc_labels[1]),
                         (roc3_fpr, roc3_tpr, RED, roc_labels[2])]:
    ax.plot(fx, ty, color=col, lw=2, label=lab)
ax.set_xlim(-0.038, 1.042)
ax.set_ylim(-0.025, 1.044)
ax.set_xticks(np.arange(0, 1.01, 0.2))
ax.set_yticks(np.arange(0, 1.01, 0.2))
ax.xaxis.set_major_formatter(matplotlib.ticker.FormatStrFormatter("%.1f"))
ax.yaxis.set_major_formatter(matplotlib.ticker.FormatStrFormatter("%.1f"))
ax.set_xlabel("1-specificity", fontsize=8.5, color="#333333")
ax.set_ylabel("Sensitivity", fontsize=8.5, color="#333333")
ax.legend(loc="lower right", frameon=False, fontsize=8.5, handlelength=2.4,
          handletextpad=0.5, labelspacing=0.05, borderaxespad=0.6)
letter(403, 578, "F")

fig.savefig("out.png", dpi=100)
